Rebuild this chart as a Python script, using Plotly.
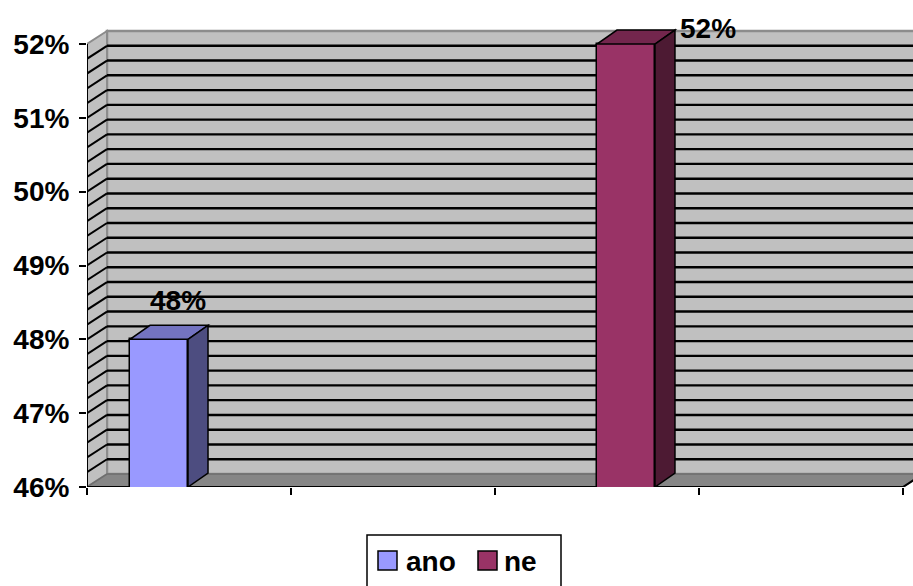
import plotly.graph_objects as go

# ---- data ----
categories = ["ano", "ne"]
values = [48, 52]                      # percent
front_colors = ["#9999FF", "#993366"]
top_colors = ["#7373C0", "#73264D"]
side_colors = ["#4D4D80", "#4D1A33"]
y_tick_values = [46, 47, 48, 49, 50, 51, 52]
y_tick_labels = ["46%", "47%", "48%", "49%", "50%", "51%", "52%"]

# ---- geometry of the pseudo-3D box (axis units) ----
FIG_W, FIG_H = 913, 586
M_L, M_R, M_T, M_B = 87, 0, 10, 99
PX_X = 204.0            # pixels per category unit
PX_Y = 73.83            # pixels per percentage point
plot_w = FIG_W - M_L - M_R
plot_h = FIG_H - M_T - M_B
X_RANGE = [0, plot_w / PX_X]
Y_MIN, Y_MAX = y_tick_values[0], y_tick_values[-1]
Y_RANGE = [Y_MIN, Y_MIN + plot_h / PX_Y]
X_END = 4.0                              # front edge of floor
WALL_DX, WALL_DY = 20 / PX_X, 13 / PX_Y  # depth of walls
BAR_DX, BAR_DY = 20 / PX_X, 14 / PX_Y    # depth of columns
BAR_W = 58 / PX_X
BAR_POS = [0.353, 2.642]
LABEL_OFF = [(0.094, 0.52), (0.40, 0.217)]
GRID_STEP = 0.2

WALL = "#C0C0C0"
WALL_EDGE = "#8C8C8C"
FLOOR = "#868686"
FONT = "Arial, Liberation Sans, sans-serif"

shapes = []


def poly(pts, fill, line_color, line_w=1.5, layer="below"):
    path = "M " + " L ".join(f"{x},{y}" for x, y in pts) + " Z"
    shapes.append(dict(type="path", path=path, xref="x", yref="y",
                       fillcolor=fill, line=dict(color=line_color, width=line_w),
                       layer=layer))


def seg(x0, y0, x1, y1, color, width, layer="below"):
    shapes.append(dict(type="line", x0=x0, y0=y0, x1=x1, y1=y1, xref="x", yref="y",
                       line=dict(color=color, width=width), layer=layer))


# back wall
poly([(WALL_DX, Y_MIN + WALL_DY), (X_END + WALL_DX, Y_MIN + WALL_DY),
      (X_END + WALL_DX, Y_MAX + WALL_DY), (WALL_DX, Y_MAX + WALL_DY)],
     WALL, WALL_EDGE, 2.5)
# left side wall
poly([(0, Y_MIN), (WALL_DX, Y_MIN + WALL_DY), (WALL_DX, Y_MAX + WALL_DY), (0, Y_MAX)],
     WALL, WALL_EDGE, 2)

# grid lines on both walls
n_steps = int(round((Y_MAX - Y_MIN) / GRID_STEP))
for i in range(1, n_steps):
    v = Y_MIN + i * GRID_STEP
    seg(WALL_DX, v + WALL_DY, X_END + WALL_DX, v + WALL_DY, "black", 2.4)
    seg(0, v, WALL_DX, v + WALL_DY, "black", 2)

# floor
poly([(0, Y_MIN), (X_END, Y_MIN), (X_END + WALL_DX, Y_MIN + WALL_DY), (WALL_DX, Y_MIN + WALL_DY)],
     FLOOR, "#6E6E6E", 1.5)
seg(0, Y_MIN, X_END, Y_MIN, "black", 2)
seg(X_END, Y_MIN, X_END + WALL_DX, Y_MIN + WALL_DY, "black", 2)
# value axis line
seg(0, Y_MIN, 0, Y_MAX, "black", 2)

fig = go.Figure()

# front faces of the columns
for name, pos, v, col in zip(categories, BAR_POS, values, front_colors):
    fig.add_trace(go.Bar(
        x=[pos], y=[v], width=BAR_W, name=name,
        marker=dict(color=col, line=dict(color="black", width=1.5)),
        showlegend=False,
        hovertemplate=f"{name}: %{{y}}%<extra></extra>",
    ))

# top and side faces of the columns, plus value labels
annotations = []
for pos, v, top, side, (ox, oy) in zip(BAR_POS, values, top_colors, side_colors, LABEL_OFF):
    xl, xr = pos - BAR_W / 2, pos + BAR_W / 2
    poly([(xl, v), (xr, v), (xr + BAR_DX, v + BAR_DY), (xl + BAR_DX, v + BAR_DY)],
         top, "black", 1.5, layer="above")
    poly([(xr, Y_MIN), (xr + BAR_DX, Y_MIN + BAR_DY), (xr + BAR_DX, v + BAR_DY), (xr, v)],
         side, "black", 1.5, layer="above")
    annotations.append(dict(x=pos + ox, y=v + oy, xref="x", yref="y", text=f"{v}%",
                            showarrow=False, xanchor="center", yanchor="middle",
                            font=dict(family=FONT, size=28, color="black", weight="bold")))


# legend drawn as a boxed key below the chart
def px_x(p):
    return (p - M_L) / plot_w


def px_y(p):
    return (FIG_H - M_B - p) / plot_h


shapes.append(dict(type="rect", xref="paper", yref="paper",
                   x0=px_x(367), x1=px_x(561), y0=px_y(592), y1=px_y(535),
                   line=dict(color="black", width=1.5), fillcolor="white", layer="above"))
legend_swatch_left = [378, 478]
legend_text_left = [404, 502]
for name, col, sx, tx in zip(categories, front_colors, legend_swatch_left, legend_text_left):
    shapes.append(dict(type="rect", xref="paper", yref="paper",
                       x0=px_x(sx), x1=px_x(sx + 19), y0=px_y(570), y1=px_y(551),
                       line=dict(color="black", width=1.5), fillcolor=col, layer="above"))
    annotations.append(dict(x=px_x(tx), y=px_y(561), xref="paper", yref="paper",
                            text=name, showarrow=False, xanchor="left", yanchor="middle",
                            font=dict(family=FONT, size=28, color="black", weight="bold")))

fig.update_layout(
    width=FIG_W, height=FIG_H,
    margin=dict(l=M_L, r=M_R, t=M_T, b=M_B, pad=0),
    paper_bgcolor="white", plot_bgcolor="white",
    showlegend=False,
    shapes=shapes, annotations=annotations,
    xaxis=dict(range=X_RANGE, showgrid=False, zeroline=False, showline=False,
               tickmode="array", tickvals=[0, 1, 2, 3, 4], ticks="outside",
               ticklen=7, tickwidth=2, tickcolor="black", showticklabels=False,
               fixedrange=True),
    yaxis=dict(range=Y_RANGE, showgrid=False, zeroline=False, showline=False,
               tickmode="array", tickvals=y_tick_values, ticktext=y_tick_labels,
               ticks="outside", ticklen=7, tickwidth=2, tickcolor="black",
               ticklabelstandoff=4,
               tickfont=dict(family=FONT, size=28, color="black", weight="bold"),
               fixedrange=True),
    bargap=0,
)

fig.write_html("out.html")
